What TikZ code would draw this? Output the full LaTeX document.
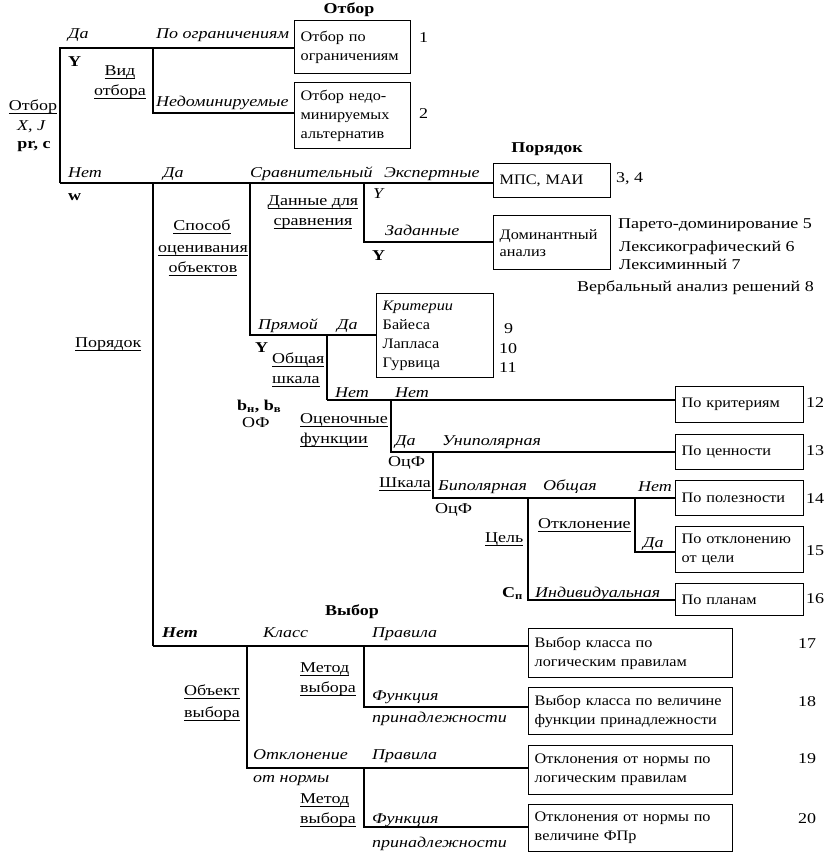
\documentclass[tikz,border=0pt]{standalone}
\usepackage{fontspec}
\setmainfont{Liberation Serif}[FakeStretch=1.2]
\newfontfamily\boxfont{Liberation Serif}[FakeStretch=1.12]
\newcommand\ulin[1]{\setbox0\hbox{#1}\rlap{\rule[-3.5pt]{\wd0}{0.8pt}}\box0}
\tikzset{
 lab/.style={anchor=base west, inner sep=0pt, font=\fontsize{15}{19}\selectfont},
 labc/.style={lab, anchor=base},
 labit/.style={lab, font=\fontsize{15}{19}\selectfont\itshape},
 labbf/.style={lab, font=\fontsize{15}{19}\selectfont\bfseries},
 labbfc/.style={labbf, anchor=base},
 box/.style={draw, line width=1.4pt, anchor=north west, inner xsep=6pt, inner ysep=0pt, align=left, font=\boxfont\fontsize{14.5}{19}\selectfont},
 ln/.style={line width=1.2pt},
 lnt/.style={line width=1.9pt},
}
\begin{document}
\begin{tikzpicture}[x=1pt,y=-1pt]
\useasboundingbox (0,0) rectangle (835,857);
% ---------- boxes ----------
\node[box, minimum width=116pt, minimum height=53pt, text width=104pt] (b1) at (294,20) {Отбор по\\ограничениям};
\node[box, minimum width=116pt, minimum height=66pt, text width=104pt] (b2) at (294,82) {Отбор недо-\\минируемых\\альтернатив};
\node[box, minimum width=117pt, minimum height=34pt, text width=105pt] (mps) at (493,163) {МПС, МАИ};
\node[box, minimum width=117pt, minimum height=54pt, text width=105pt, font=\boxfont\fontsize{14.5}{17}\selectfont] (dom) at (493,215) {Доминантный\\анализ};
\node[box, minimum width=117pt, minimum height=84pt, text width=105pt] (krit) at (376,293) {\textit{Критерии}\\Байеса\\Лапласа\\Гурвица};
\node[box, minimum width=128pt, minimum height=36pt, text width=116pt] (pk) at (675,386) {По критериям};
\node[box, minimum width=128pt, minimum height=35pt, text width=116pt] (pc) at (675,434) {По ценности};
\node[box, minimum width=128pt, minimum height=35pt, text width=116pt] (pp) at (675,480) {По полезности};
\node[box, minimum width=128pt, minimum height=46pt, text width=116pt] (po) at (675,526) {По отклонению\\от цели};
\node[box, minimum width=128pt, minimum height=32pt, text width=116pt] (pl) at (675,583) {По планам};
\node[box, minimum width=204pt, minimum height=49pt, text width=192pt] (b17) at (528,628) {Выбор класса по\\логическим правилам};
\node[box, minimum width=204pt, minimum height=47pt, text width=192pt] (b18) at (528,687) {Выбор класса по величине\\функции принадлежности};
\node[box, minimum width=204pt, minimum height=49pt, text width=192pt] (b19) at (528,745) {Отклонения от нормы по\\логическим правилам};
\node[box, minimum width=204pt, minimum height=47pt, text width=192pt] (b20) at (528,804) {Отклонения от нормы по\\величине ФПр};
% ---------- junctions ----------
\coordinate (A1) at (60,48);  \coordinate (A2) at (60,183);
\coordinate (A3) at (153,48); \coordinate (A4) at (153,113);
\coordinate (B1) at (153,183); \coordinate (B2) at (153,646);
\coordinate (C1) at (250,183); \coordinate (C2) at (250,335);
\coordinate (D1) at (364,183); \coordinate (D2) at (364,242);
\coordinate (E1) at (327,335); \coordinate (E2) at (327,400);
\coordinate (F1) at (391,400); \coordinate (F2) at (391,452);
\coordinate (G1) at (433,452); \coordinate (G2) at (433,498);
\coordinate (H1) at (528,498); \coordinate (H2) at (528,600);
\coordinate (I1) at (635,498); \coordinate (I2) at (635,552);
\coordinate (J1) at (247,646); \coordinate (J2) at (247,768);
\coordinate (K1) at (364,646); \coordinate (K2) at (364,707);
\coordinate (L1) at (364,768); \coordinate (L2) at (364,827);
% ---------- connectors ----------
\draw[lnt] (A2) -- (A1) -- (A1 -| b1.west);
\draw[ln] (A3) -- (A4) -- (A4 -| b2.west);
\draw[lnt] (A2) -- (A2 -| mps.west);
\draw[ln] (B1) -- (B2);
\draw[lnt] (B2) -- (B2 -| b17.west);
\draw[ln] (C1) -- (C2) -- (C2 -| krit.west);
\draw[ln] (D1) -- (D2) -- (D2 -| dom.west);
\draw[ln] (E1) -- (E2);
\draw[lnt] (E2) -- (E2 -| pk.west);
\draw[ln] (F1) -- (F2) -- (F2 -| pc.west);
\draw[ln] (G1) -- (G2) -- (G2 -| pp.west);
\draw[ln] (H1) -- (H2) -- (H2 -| pl.west);
\draw[ln] (I1) -- (I2) -- (I2 -| po.west);
\draw[ln] (J1) -- (J2) -- (J2 -| b19.west);
\draw[ln] (K1) -- (K2) -- (K2 -| b18.west);
\draw[ln] (L1) -- (L2) -- (L2 -| b20.west);
% ---------- headings ----------
\node[labbfc] (h1) at (349,13) {Отбор};
\node[labbfc] (h2) at (547,152) {Порядок};
\node[labbfc] (h3) at (352,615) {Выбор};
% ---------- numbers ----------
\node[lab] (n1) at (419,42) {1};
\node[lab] (n2) at (419,118) {2};
\node[lab] (n34) at (616,182) {3, 4};
\node[lab] (n5) at (618,228) {Парето-доминирование 5};
\node[lab] (n6) at (619,251) {Лексикографический 6};
\node[lab] (n7) at (619,269) {Лексиминный 7};
\node[lab] (n8) at (577,291) {Вербальный анализ решений 8};
\node[lab] (n9) at (504,333) {9};
\node[lab] (n10) at (499,353) {10};
\node[lab] (n11) at (499,372) {11};
\node[lab] (n12) at (806,407) {12};
\node[lab] (n13) at (806,455) {13};
\node[lab] (n14) at (806,503) {14};
\node[lab] (n15) at (806,555) {15};
\node[lab] (n16) at (806,603) {16};
\node[lab] (n17) at (798,648) {17};
\node[lab] (n18) at (798,706) {18};
\node[lab] (n19) at (798,763) {19};
\node[lab] (n20) at (798,823) {20};
% ---------- labels: Отбор ----------
\node[labc] (r1) at (33,110) {\ulin{Отбор}};
\node[labit, anchor=base] (r2) at (31,130) {X, J};
\node[labbfc] (r3) at (34,148) {pr, c};
\node[labit] (a1) at (68,38) {Да};
\node[labit] (a2) at (156,38) {По ограничениям};
\node[labbf] (a3) at (68,66) {Y};
\node[labc] (a4) at (120,75) {\ulin{Вид}};
\node[labc] (a5) at (120,95) {\ulin{отбора}};
\node[labit] (a6) at (156,106) {Недоминируемые};
% ---------- labels: Порядок ----------
\node[labit] (c1) at (68,177) {Нет};
\node[labbf] (c2) at (68,200) {w};
\node[labit] (c3) at (163,177) {Да};
\node[labit] (c4) at (250,177) {Сравнительный};
\node[labit] (c5) at (384,177) {Экспертные};
\node[labit] (c6) at (373,198) {Y};
\node[labit] (c7) at (385,235) {Заданные};
\node[labbf] (c8) at (372,260) {Y};
\node[labc] (c9) at (313,205) {\ulin{Данные для}};
\node[labc] (c10) at (313,225) {\ulin{сравнения}};
\node[labc] (c11) at (202,230) {\ulin{Способ}};
\node[labc] (c12) at (203,252) {\ulin{оценивания}};
\node[labc] (c13) at (203,272) {\ulin{объектов}};
\node[lab] (c14) at (75,347) {\ulin{Порядок}};
\node[labit] (d1) at (258,329) {Прямой};
\node[labit] (d2) at (337,329) {Да};
\node[labbf] (d3) at (255,352) {Y};
\node[lab] (d4) at (272,363) {\ulin{Общая}};
\node[lab] (d5) at (272,383) {\ulin{шкала}};
\node[labit] (d6) at (335,397) {Нет};
\node[labit] (d7) at (395,397) {Нет};
\node[labbf] (d8) at (237,410) {b\textsubscript{н}, b\textsubscript{в}};
\node[lab] (d9) at (242,427) {ОФ};
\node[lab] (d10) at (300,423) {\ulin{Оценочные}};
\node[lab] (d11) at (300,443) {\ulin{функции}};
\node[labit] (e1) at (395,445) {Да};
\node[labit] (e2) at (442,445) {Униполярная};
\node[lab] (e3) at (388,466) {ОцФ};
\node[lab] (e4) at (379,487) {\ulin{Шкала}};
\node[labit] (e5) at (438,490) {Биполярная};
\node[labit] (e6) at (543,490) {Общая};
\node[labit] (e7) at (638,491) {Нет};
\node[lab] (e8) at (435,513) {ОцФ};
\node[lab] (e9) at (485,542) {\ulin{Цель}};
\node[lab] (e10) at (538,528) {\ulin{Отклонение}};
\node[labit] (e11) at (643,547) {Да};
\node[labbf] (e12) at (502,597) {C\textsubscript{п}};
\node[labit] (e13) at (535,597) {Индивидуальная};
% ---------- labels: Выбор ----------
\node[labit, font=\fontsize{15}{19}\selectfont\bfseries\itshape] (v1) at (162,637) {Нет};
\node[labit] (v2) at (263,637) {Класс};
\node[labit] (v3) at (372,637) {Правила};
\node[lab] (v4) at (184,695) {\ulin{Объект}};
\node[lab] (v5) at (184,717) {\ulin{выбора}};
\node[lab] (v6) at (300,672) {\ulin{Метод}};
\node[lab] (v7) at (300,692) {\ulin{выбора}};
\node[labit] (v8) at (372,700) {Функция};
\node[labit] (v9) at (372,722) {принадлежности};
\node[labit] (v10) at (253,759) {Отклонение};
\node[labit] (v11) at (253,782) {от нормы};
\node[labit] (v12) at (372,759) {Правила};
\node[lab] (v13) at (300,803) {\ulin{Метод}};
\node[lab] (v14) at (300,823) {\ulin{выбора}};
\node[labit] (v15) at (372,823) {Функция};
\node[labit] (v16) at (372,847) {принадлежности};
\end{tikzpicture}
\end{document}
